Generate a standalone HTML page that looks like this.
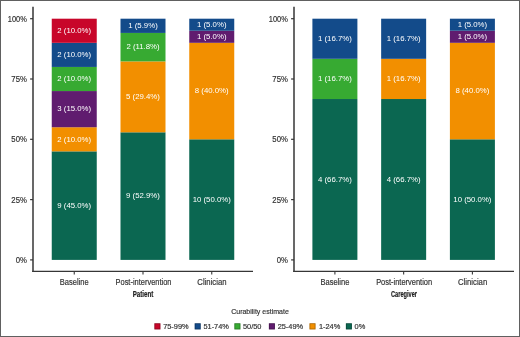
<!DOCTYPE html>
<html><head><meta charset="utf-8"><style>
html,body{margin:0;padding:0;background:#fff;}
svg{display:block;will-change:transform;}
text{font-family:"Liberation Sans",sans-serif;}
.bl{font-size:7.8px;fill:#fff;text-anchor:middle;}
.tl{font-size:8.3px;fill:#333333;text-anchor:end;stroke:#333333;stroke-width:0.18px;}
.xl{font-size:8.4px;fill:#333333;text-anchor:middle;stroke:#333333;stroke-width:0.18px;}
.pt{font-size:8.9px;fill:#222;text-anchor:middle;font-weight:bold;stroke:#222;stroke-width:0.2px;}
.lt{font-size:7.6px;fill:#333333;text-anchor:middle;stroke:#333333;stroke-width:0.18px;}
.li{font-size:7.4px;fill:#333333;stroke:#333333;stroke-width:0.18px;}
</style></head><body>
<svg width="520" height="337" viewBox="0 0 520 337">
<rect x="0.5" y="0.5" width="519" height="336" fill="#fff" stroke="#606060" stroke-width="1"/>
<rect x="51.75" y="151.36" width="45.0" height="108.54" fill="#0B6751"/>
<rect x="51.75" y="127.24" width="45.0" height="24.12" fill="#F28F00"/>
<rect x="51.75" y="91.06" width="45.0" height="36.18" fill="#601C6F"/>
<rect x="51.75" y="66.94" width="45.0" height="24.12" fill="#37AA32"/>
<rect x="51.75" y="42.82" width="45.0" height="24.12" fill="#134B8A"/>
<rect x="51.75" y="18.70" width="45.0" height="24.12" fill="#C8062A"/>
<text x="74.25" y="207.93" class="bl">9 (45.0%)</text>
<text x="74.25" y="141.60" class="bl">2 (10.0%)</text>
<text x="74.25" y="111.45" class="bl">3 (15.0%)</text>
<text x="74.25" y="81.30" class="bl">2 (10.0%)</text>
<text x="74.25" y="57.18" class="bl">2 (10.0%)</text>
<text x="74.25" y="33.06" class="bl">2 (10.0%)</text>
<line x1="74.25" y1="271" x2="74.25" y2="274.6" stroke="#363636" stroke-width="1.1"/>
<text x="74.25" y="284.6" class="xl" textLength="28.9" lengthAdjust="spacingAndGlyphs">Baseline</text>
<rect x="120.50" y="132.31" width="45.0" height="127.59" fill="#0B6751"/>
<rect x="120.50" y="61.39" width="45.0" height="70.91" fill="#F28F00"/>
<rect x="120.50" y="32.93" width="45.0" height="28.46" fill="#37AA32"/>
<rect x="120.50" y="18.70" width="45.0" height="14.23" fill="#134B8A"/>
<text x="143.00" y="198.40" class="bl">9 (52.9%)</text>
<text x="143.00" y="99.15" class="bl">5 (29.4%)</text>
<text x="143.00" y="49.46" class="bl">2 (11.8%)</text>
<text x="143.00" y="28.12" class="bl">1 (5.9%)</text>
<line x1="143.00" y1="271" x2="143.00" y2="274.6" stroke="#363636" stroke-width="1.1"/>
<text x="143.50" y="284.6" class="xl" textLength="56.0" lengthAdjust="spacingAndGlyphs">Post-intervention</text>
<rect x="189.25" y="139.30" width="45.0" height="120.60" fill="#0B6751"/>
<rect x="189.25" y="42.82" width="45.0" height="96.48" fill="#F28F00"/>
<rect x="189.25" y="30.76" width="45.0" height="12.06" fill="#601C6F"/>
<rect x="189.25" y="18.70" width="45.0" height="12.06" fill="#134B8A"/>
<text x="211.75" y="201.90" class="bl">10 (50.0%)</text>
<text x="211.75" y="93.36" class="bl">8 (40.0%)</text>
<text x="211.75" y="39.09" class="bl">1 (5.0%)</text>
<text x="211.75" y="27.03" class="bl">1 (5.0%)</text>
<line x1="211.75" y1="271" x2="211.75" y2="274.6" stroke="#363636" stroke-width="1.1"/>
<text x="211.95" y="284.6" class="xl" textLength="29.2" lengthAdjust="spacingAndGlyphs">Clinician</text>
<line x1="33.0" y1="6.7" x2="33.0" y2="272.1" stroke="#363636" stroke-width="1.5"/>
<line x1="32.2" y1="271.45" x2="253.0" y2="271.45" stroke="#363636" stroke-width="1.3"/>
<line x1="30.1" y1="259.90" x2="33.0" y2="259.90" stroke="#363636" stroke-width="1.2"/>
<text x="26.9" y="262.90" class="tl" textLength="11.22" lengthAdjust="spacingAndGlyphs">0%</text>
<line x1="30.1" y1="199.60" x2="33.0" y2="199.60" stroke="#363636" stroke-width="1.2"/>
<text x="26.9" y="202.60" class="tl" textLength="15.53" lengthAdjust="spacingAndGlyphs">25%</text>
<line x1="30.1" y1="139.30" x2="33.0" y2="139.30" stroke="#363636" stroke-width="1.2"/>
<text x="26.9" y="142.30" class="tl" textLength="15.53" lengthAdjust="spacingAndGlyphs">50%</text>
<line x1="30.1" y1="79.00" x2="33.0" y2="79.00" stroke="#363636" stroke-width="1.2"/>
<text x="26.9" y="82.00" class="tl" textLength="15.53" lengthAdjust="spacingAndGlyphs">75%</text>
<line x1="30.1" y1="18.70" x2="33.0" y2="18.70" stroke="#363636" stroke-width="1.2"/>
<text x="26.9" y="21.70" class="tl" textLength="19.10" lengthAdjust="spacingAndGlyphs">100%</text>
<text x="143.00" y="296.9" class="pt" textLength="20.6" lengthAdjust="spacingAndGlyphs">Patient</text>
<rect x="312.40" y="99.02" width="45.0" height="160.88" fill="#0B6751"/>
<rect x="312.40" y="58.81" width="45.0" height="40.21" fill="#37AA32"/>
<rect x="312.40" y="18.70" width="45.0" height="40.11" fill="#134B8A"/>
<text x="334.90" y="181.76" class="bl">4 (66.7%)</text>
<text x="334.90" y="81.22" class="bl">1 (16.7%)</text>
<text x="334.90" y="41.01" class="bl">1 (16.7%)</text>
<line x1="334.90" y1="271" x2="334.90" y2="274.6" stroke="#363636" stroke-width="1.1"/>
<text x="334.90" y="284.6" class="xl" textLength="28.9" lengthAdjust="spacingAndGlyphs">Baseline</text>
<rect x="381.15" y="99.02" width="45.0" height="160.88" fill="#0B6751"/>
<rect x="381.15" y="58.81" width="45.0" height="40.21" fill="#F28F00"/>
<rect x="381.15" y="18.70" width="45.0" height="40.11" fill="#134B8A"/>
<text x="403.65" y="181.76" class="bl">4 (66.7%)</text>
<text x="403.65" y="81.22" class="bl">1 (16.7%)</text>
<text x="403.65" y="41.01" class="bl">1 (16.7%)</text>
<line x1="403.65" y1="271" x2="403.65" y2="274.6" stroke="#363636" stroke-width="1.1"/>
<text x="404.15" y="284.6" class="xl" textLength="56.0" lengthAdjust="spacingAndGlyphs">Post-intervention</text>
<rect x="449.90" y="139.30" width="45.0" height="120.60" fill="#0B6751"/>
<rect x="449.90" y="42.82" width="45.0" height="96.48" fill="#F28F00"/>
<rect x="449.90" y="30.76" width="45.0" height="12.06" fill="#601C6F"/>
<rect x="449.90" y="18.70" width="45.0" height="12.06" fill="#134B8A"/>
<text x="472.40" y="201.90" class="bl">10 (50.0%)</text>
<text x="472.40" y="93.36" class="bl">8 (40.0%)</text>
<text x="472.40" y="39.09" class="bl">1 (5.0%)</text>
<text x="472.40" y="27.03" class="bl">1 (5.0%)</text>
<line x1="472.40" y1="271" x2="472.40" y2="274.6" stroke="#363636" stroke-width="1.1"/>
<text x="472.60" y="284.6" class="xl" textLength="29.2" lengthAdjust="spacingAndGlyphs">Clinician</text>
<line x1="294.0" y1="6.7" x2="294.0" y2="272.1" stroke="#363636" stroke-width="1.5"/>
<line x1="293.2" y1="271.45" x2="514.0" y2="271.45" stroke="#363636" stroke-width="1.3"/>
<line x1="291.1" y1="259.90" x2="294.0" y2="259.90" stroke="#363636" stroke-width="1.2"/>
<text x="287.9" y="262.90" class="tl" textLength="11.22" lengthAdjust="spacingAndGlyphs">0%</text>
<line x1="291.1" y1="199.60" x2="294.0" y2="199.60" stroke="#363636" stroke-width="1.2"/>
<text x="287.9" y="202.60" class="tl" textLength="15.53" lengthAdjust="spacingAndGlyphs">25%</text>
<line x1="291.1" y1="139.30" x2="294.0" y2="139.30" stroke="#363636" stroke-width="1.2"/>
<text x="287.9" y="142.30" class="tl" textLength="15.53" lengthAdjust="spacingAndGlyphs">50%</text>
<line x1="291.1" y1="79.00" x2="294.0" y2="79.00" stroke="#363636" stroke-width="1.2"/>
<text x="287.9" y="82.00" class="tl" textLength="15.53" lengthAdjust="spacingAndGlyphs">75%</text>
<line x1="291.1" y1="18.70" x2="294.0" y2="18.70" stroke="#363636" stroke-width="1.2"/>
<text x="287.9" y="21.70" class="tl" textLength="19.10" lengthAdjust="spacingAndGlyphs">100%</text>
<text x="404.00" y="296.9" class="pt" textLength="26.0" lengthAdjust="spacingAndGlyphs">Caregiver</text>
<text x="260.0" y="314.3" class="lt" textLength="57.6" lengthAdjust="spacingAndGlyphs">Curability estimate</text>
<rect x="154.40" y="323.3" width="6.0" height="6.1" fill="#C8062A"/>
<rect x="154.80" y="323.7" width="5.2" height="5.3" fill="none" stroke="#000" stroke-opacity="0.3" stroke-width="0.8"/>
<text x="163.15" y="329.1" class="li">75-99%</text>
<rect x="194.70" y="323.3" width="6.0" height="6.1" fill="#134B8A"/>
<rect x="195.10" y="323.7" width="5.2" height="5.3" fill="none" stroke="#000" stroke-opacity="0.3" stroke-width="0.8"/>
<text x="203.45" y="329.1" class="li">51-74%</text>
<rect x="234.40" y="323.3" width="6.0" height="6.1" fill="#37AA32"/>
<rect x="234.80" y="323.7" width="5.2" height="5.3" fill="none" stroke="#000" stroke-opacity="0.3" stroke-width="0.8"/>
<text x="242.95" y="329.1" class="li">50/50</text>
<rect x="268.90" y="323.3" width="6.0" height="6.1" fill="#601C6F"/>
<rect x="269.30" y="323.7" width="5.2" height="5.3" fill="none" stroke="#000" stroke-opacity="0.3" stroke-width="0.8"/>
<text x="277.65" y="329.1" class="li">25-49%</text>
<rect x="309.50" y="323.3" width="6.0" height="6.1" fill="#F28F00"/>
<rect x="309.90" y="323.7" width="5.2" height="5.3" fill="none" stroke="#000" stroke-opacity="0.3" stroke-width="0.8"/>
<text x="318.95" y="329.1" class="li">1-24%</text>
<rect x="345.90" y="323.3" width="6.0" height="6.1" fill="#0B6751"/>
<rect x="346.30" y="323.7" width="5.2" height="5.3" fill="none" stroke="#000" stroke-opacity="0.3" stroke-width="0.8"/>
<text x="354.55" y="329.1" class="li">0%</text>
</svg>
</body></html>
